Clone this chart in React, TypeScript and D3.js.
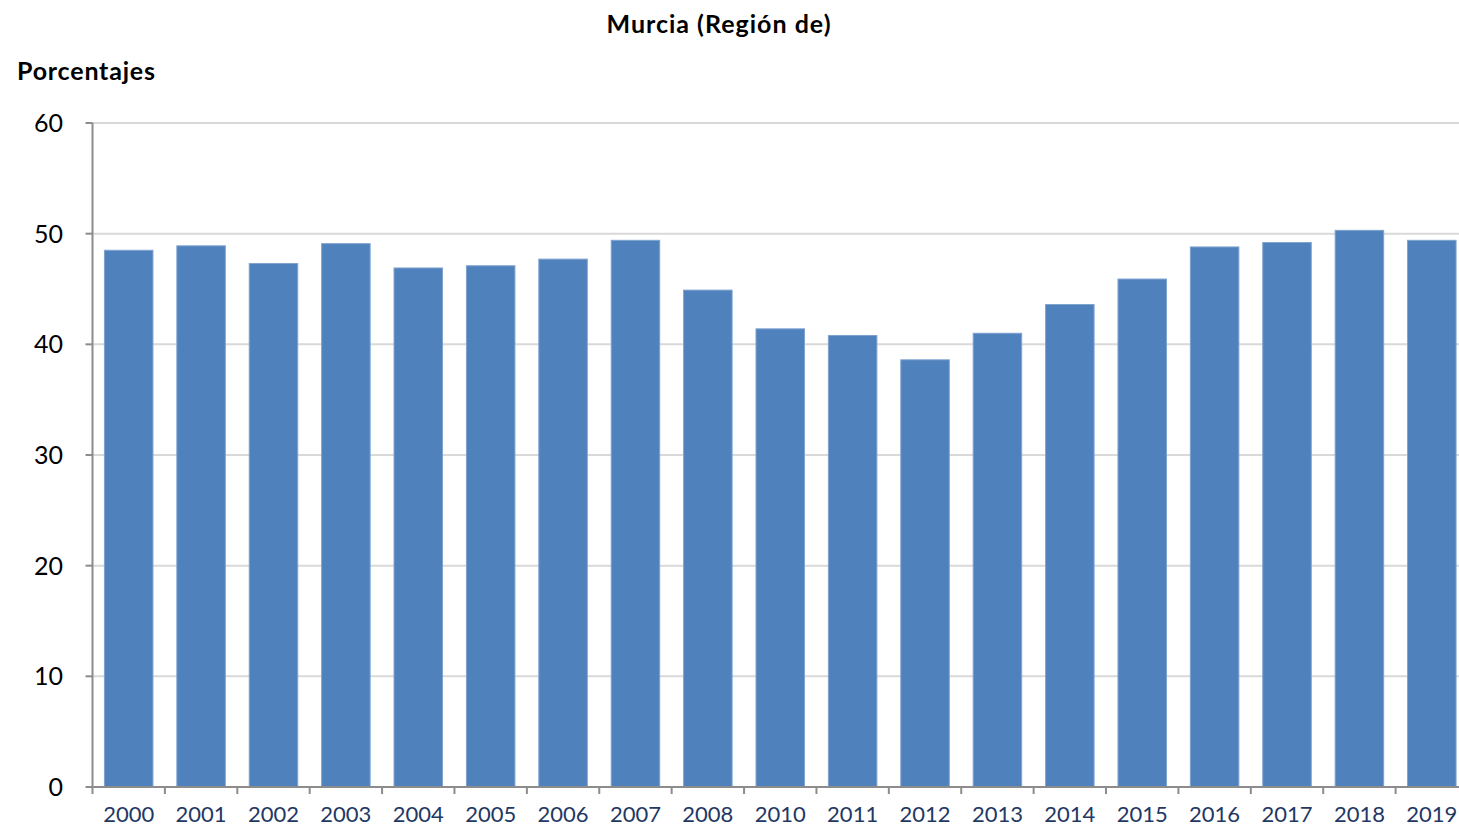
import { useMemo } from 'react';
import * as d3 from 'd3';

const years = ['2000', '2001', '2002', '2003', '2004', '2005', '2006', '2007', '2008', '2010',
  '2011', '2012', '2013', '2014', '2015', '2016', '2017', '2018', '2019'];
const values = [48.5, 48.9, 47.3, 49.1, 46.9, 47.1, 47.7, 49.4, 44.9, 41.4,
  40.8, 38.6, 41.0, 43.6, 45.9, 48.8, 49.2, 50.3, 49.4];
const yTicks = [0, 10, 20, 30, 40, 50, 60];

const W = 1459;
const H = 828;
const left = 92.5;
const right = 1468;
const top = 123;
const bottom = 787;
const font = 'Lato, "Open Sans", "DejaVu Sans", sans-serif';

export default function App() {
  const x = useMemo(() => d3.scaleBand<string>().domain(years).range([left, right]).paddingInner(0.33).paddingOuter(0.165), []);
  const y = useMemo(() => d3.scaleLinear().domain([0, 60]).range([bottom, top]), []);
  const step = x.step();

  return (
    <svg width={W} height={H} style={{ position: 'absolute', left: 0, top: 0, background: '#fff' }}>
      <text x={719} y={33} textAnchor="middle" fontFamily={font} fontWeight="bold" fontSize={25} letterSpacing={1} fill="#000">
        Murcia (Región de)
      </text>
      <text x={17} y={80} fontFamily={font} fontWeight="bold" fontSize={25} letterSpacing={0.8} fill="#000">
        Porcentajes
      </text>

      {/* gridlines */}
      {yTicks.filter(t => t > 0).map(t => (
        <line key={'g' + t} x1={left} x2={W} y1={y(t)} y2={y(t)} stroke="#d9d9d9" strokeWidth={2} />
      ))}

      {/* bars */}
      {years.map((yr, i) => (
        <rect key={yr} x={x(yr)} y={y(values[i])} width={x.bandwidth()} height={bottom - y(values[i])}
          fill="#4f81bd" stroke="#7fa3cf" strokeWidth={1} />
      ))}

      {/* y axis */}
      <line x1={left} x2={left} y1={top} y2={bottom} stroke="#8c8c8c" strokeWidth={2} />
      {yTicks.map(t => (
        <g key={'y' + t}>
          <line x1={left - 7} x2={left} y1={y(t)} y2={y(t)} stroke="#8c8c8c" strokeWidth={2} />
          <text x={63} y={y(t)} dy="0.36em" textAnchor="end" fontFamily={font} fontSize={25} fill="#000">{t}</text>
        </g>
      ))}

      {/* x axis */}
      <line x1={left} x2={W} y1={bottom} y2={bottom} stroke="#8c8c8c" strokeWidth={2} />
      {years.map((yr, i) => (
        <g key={'x' + yr}>
          <line x1={left + i * step} x2={left + i * step} y1={bottom} y2={bottom + 7} stroke="#8c8c8c" strokeWidth={2} />
          <text x={(x(yr) ?? 0) + x.bandwidth() / 2} y={822} textAnchor="middle" fontFamily={font} fontSize={22} fill="#1f3864">{yr}</text>
        </g>
      ))}
    </svg>
  );
}
